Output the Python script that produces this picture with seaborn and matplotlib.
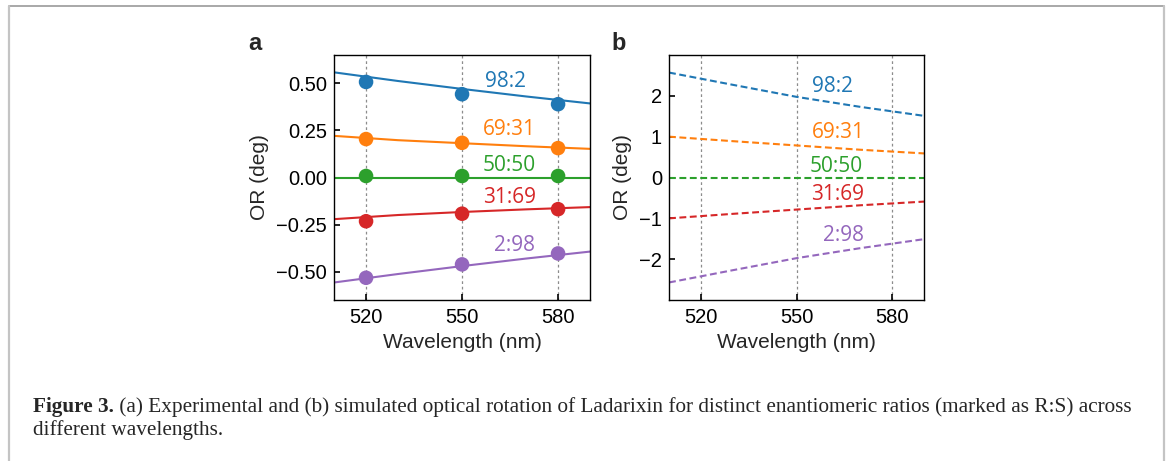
import numpy as np
import pandas as pd
import matplotlib
matplotlib.use("Agg")
import matplotlib.pyplot as plt
import seaborn as sns
from matplotlib.lines import Line2D

# ---------------- data ----------------
ratios = ["98:2", "69:31", "50:50", "31:69", "2:98"]
colors = ["#1f77b4", "#ff7f0e", "#2ca02c", "#d62728", "#9467bd"]

# (a) experimental points
wl_exp = [520, 550, 580]
exp_982 = [0.507, 0.442, 0.389]
exp_6931 = [0.204, 0.184, 0.156]
exp_5050 = [0.008, 0.008, 0.008]
exp_3169 = [-0.232, -0.192, -0.168]
exp_298 = [-0.532, -0.461, -0.403]

# (a) fitted curves
wl_fit = [510, 530, 550, 570, 590]
fit_982 = [0.558, 0.512, 0.470, 0.430, 0.393]
fit_6931 = [0.221, 0.198, 0.182, 0.166, 0.152]
fit_5050 = [0.0, 0.0, 0.0, 0.0, 0.0]
fit_3169 = [-0.221, -0.199, -0.183, -0.169, -0.157]
fit_298 = [-0.557, -0.512, -0.470, -0.430, -0.393]

# (b) simulated curves
wl_sim = [510, 530, 550, 570, 590]
sim_982 = [2.57, 2.27, 1.975, 1.73, 1.51]
sim_6931 = [1.00, 0.89, 0.785, 0.68, 0.59]
sim_5050 = [0.0, 0.0, 0.0, 0.0, 0.0]
sim_3169 = [-1.00, -0.89, -0.785, -0.68, -0.59]
sim_298 = [-2.57, -2.27, -1.975, -1.73, -1.51]

xticks = [520, 550, 580]
yticks_a = [-0.50, -0.25, 0.00, 0.25, 0.50]
yticks_b = [-2, -1, 0, 1, 2]

exp_all = [exp_982, exp_6931, exp_5050, exp_3169, exp_298]
fit_all = [fit_982, fit_6931, fit_5050, fit_3169, fit_298]
sim_all = [sim_982, sim_6931, sim_5050, sim_3169, sim_298]

def long_df(xs, series):
    rows = []
    for r, vals in zip(ratios, series):
        for x, v in zip(xs, vals):
            rows.append({"wl": x, "val": v, "ratio": r})
    return pd.DataFrame(rows)

df_exp = long_df(wl_exp, exp_all)
df_fit = long_df(wl_fit, fit_all)
df_sim = long_df(wl_sim, sim_all)

# label positions (data coords)
lab_a = [(563.5, 0.509), (564.8, 0.253), (564.8, 0.064), (564.9, -0.106), (566.3, -0.362)]
lab_b = [(561.4, 2.22), (563.0, 1.09), (562.6, 0.28), (562.9, -0.42), (564.8, -1.42)]

# ---------------- style ----------------
sns.set_style("ticks")
plt.rcParams["font.family"] = ["Liberation Sans", "DejaVu Sans"]
plt.rcParams["axes.linewidth"] = 1.0

palette = dict(zip(ratios, colors))

fig = plt.figure(figsize=(11.68, 4.61), dpi=100)
ax_a = fig.add_axes([0.2860, 0.3492, 0.2192, 0.5315])
ax_b = fig.add_axes([0.5728, 0.3492, 0.2183, 0.5315])

for ax in (ax_a, ax_b):
    for x in xticks:
        ax.axvline(x, color="0.55", lw=0.9, ls=(0, (2.2, 2.2)), zorder=0.5)

sns.lineplot(data=df_fit, x="wl", y="val", hue="ratio", palette=palette,
             hue_order=ratios, lw=1.5, ax=ax_a, legend=False, zorder=2)
sns.scatterplot(data=df_exp, x="wl", y="val", hue="ratio", palette=palette,
                hue_order=ratios, s=110, edgecolor="none", ax=ax_a,
                legend=False, zorder=3)
sns.lineplot(data=df_sim, x="wl", y="val", hue="ratio", palette=palette,
             hue_order=ratios, lw=1.5, ax=ax_b, legend=False, zorder=2)
for ln in ax_b.get_lines()[len(xticks):]:
    ln.set_linestyle((0, (3.3, 1.7)))

for ax, labs, ylim, yt in ((ax_a, lab_a, (-0.65, 0.65), yticks_a),
                           (ax_b, lab_b, (-3.0, 3.0), yticks_b)):
    for (lx, ly), r, c in zip(labs, ratios, colors):
        ax.text(lx, ly, r, color=c, ha="center", va="center",
                fontsize=15, family=["Open Sans", "DejaVu Sans"])
    ax.set_xlim(510, 590)
    ax.set_ylim(*ylim)
    ax.set_xticks(xticks)
    ax.set_yticks(yt)
    ax.tick_params(direction="in", length=4, width=1.2, labelsize=14.5,
                   top=False, right=False, colors="black", pad=5)
    ax.tick_params(axis="x", pad=6)
    ax.set_xlabel("Wavelength (nm)", fontsize=15, labelpad=4)
    ax.set_ylabel("OR (deg)", fontsize=15, labelpad=5)
    for sp in ax.spines.values():
        sp.set_visible(True)
        sp.set_color("black")
        sp.set_linewidth(1.0)

fig.text(255 / 1168, 1 - 44 / 461, "a", fontsize=17, fontweight="bold",
         ha="center", va="center")
fig.text(619 / 1168, 1 - 44 / 461, "b", fontsize=17, fontweight="bold",
         ha="center", va="center")

# caption
cap_font = ["Liberation Serif", "DejaVu Serif"]
cap_size = 15.3
t_bold = fig.text(33 / 1168, 1 - 407 / 461, "Figure 3.", fontsize=cap_size,
                  fontweight="bold", family=cap_font, ha="left", va="center")
fig.add_artist(matplotlib.text.Annotation(
    " (a) Experimental and (b) simulated optical rotation of Ladarixin for distinct "
    "enantiomeric ratios (marked as R:S) across",
    xy=(1, 0), xycoords=t_bold, ha="left", va="bottom",
    fontsize=cap_size, family=cap_font))
fig.text(33 / 1168, 1 - 430 / 461, "different wavelengths.", fontsize=cap_size,
         family=cap_font, ha="left", va="center")

# frame
fig.add_artist(Line2D([8.5 / 1168, 1163.5 / 1168], [1 - 6.5 / 461, 1 - 6.5 / 461],
                      color="#9a9a9a", lw=1.2, transform=fig.transFigure))
fig.add_artist(Line2D([8.5 / 1168, 8.5 / 1168], [0, 1 - 6.5 / 461],
                      color="#c4c4c4", lw=1.6, transform=fig.transFigure))
fig.add_artist(Line2D([1164 / 1168, 1164 / 1168], [0, 1 - 6.5 / 461],
                      color="#c4c4c4", lw=1.6, transform=fig.transFigure))

fig.savefig("out.png", dpi=100)
